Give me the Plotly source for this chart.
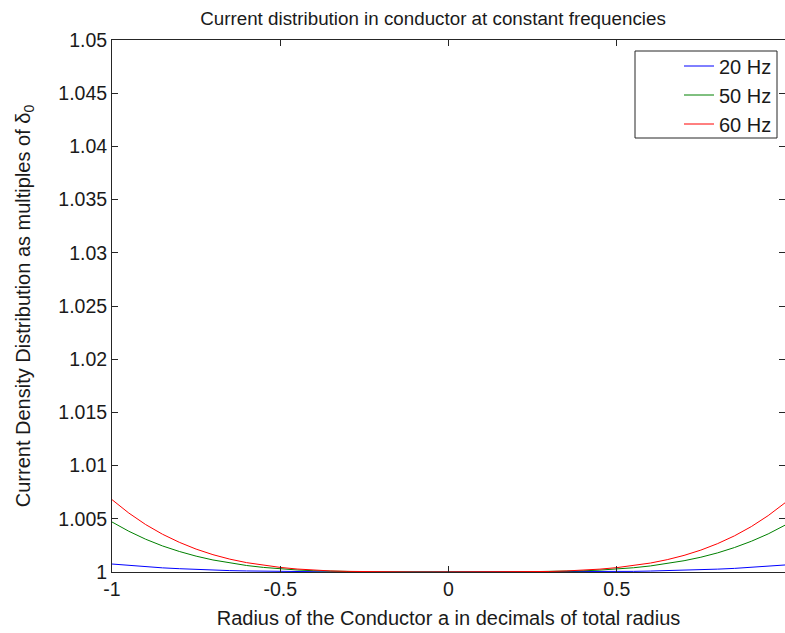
import plotly.graph_objects as go

# Radius positions (decimals of total radius)
radius = [-1.0, -0.95, -0.9, -0.85, -0.8, -0.75, -0.7, -0.65, -0.6, -0.55, -0.5,
          -0.45, -0.4, -0.35, -0.3, -0.25, -0.2, -0.15, -0.1, -0.05, 0.0,
          0.05, 0.1, 0.15, 0.2, 0.25, 0.3, 0.35, 0.4, 0.45, 0.5,
          0.55, 0.6, 0.65, 0.7, 0.75, 0.8, 0.85, 0.9, 0.95, 1.0]

j_20hz = [1.00075, 1.00061, 1.00049, 1.00039, 1.00031, 1.00024, 1.00018, 1.00013, 1.0001, 1.00007, 1.00005,
          1.00003, 1.00002, 1.00001, 1.0, 1.0, 1.0, 1.0, 1.0, 1.0, 1.0,
          1.0, 1.0, 1.0, 1.0, 1.0, 1.0, 1.00001, 1.00002, 1.00003, 1.00004,
          1.00006, 1.00009, 1.00012, 1.00016, 1.00021, 1.00027, 1.00034, 1.00043, 1.00054, 1.00066]

j_50hz = [1.0047, 1.00383, 1.00308, 1.00245, 1.00193, 1.00149, 1.00113, 1.00084, 1.00061, 1.00043, 1.00029,
          1.00019, 1.00012, 1.00007, 1.00004, 1.00002, 1.00001, 1.0, 1.0, 1.0, 1.0,
          1.0, 1.0, 1.0, 1.00001, 1.00002, 1.00004, 1.00007, 1.00011, 1.00018, 1.00028,
          1.0004, 1.00057, 1.00079, 1.00106, 1.00139, 1.0018, 1.0023, 1.00289, 1.00358, 1.0044]

j_60hz = [1.0068, 1.00554, 1.00446, 1.00355, 1.00279, 1.00215, 1.00163, 1.00121, 1.00088, 1.00062, 1.00043,
          1.00028, 1.00017, 1.0001, 1.00006, 1.00003, 1.00001, 1.0, 1.0, 1.0, 1.0,
          1.0, 1.0, 1.0, 1.00001, 1.00003, 1.00005, 1.0001, 1.00016, 1.00027, 1.00041,
          1.00059, 1.00084, 1.00116, 1.00156, 1.00206, 1.00267, 1.0034, 1.00427, 1.0053, 1.0065]

series_names = ["20 Hz", "50 Hz", "60 Hz"]
series_colors = ["#0000FF", "#008000", "#FF0000"]

x_tickvals = [-1, -0.5, 0, 0.5, 1]
x_ticktext = ["-1", "-0.5", "0", "0.5", "1"]
y_tickvals = [1, 1.005, 1.01, 1.015, 1.02, 1.025, 1.03, 1.035, 1.04, 1.045, 1.05]
y_ticktext = ["1", "1.005", "1.01", "1.015", "1.02", "1.025", "1.03", "1.035", "1.04", "1.045", "1.05"]

fig = go.Figure()
for name, color, ys in zip(series_names, series_colors, [j_20hz, j_50hz, j_60hz]):
    fig.add_trace(go.Scatter(x=radius, y=ys, mode="lines", name=name,
                             line=dict(color=color, width=1)))

font_family = "Liberation Sans, Arial, sans-serif"
text_color = "#1a1a1a"
axis_common = dict(showline=True, linecolor="#262626", linewidth=1, mirror="ticks",
                   ticks="inside", ticklen=6, tickcolor="#262626", showgrid=False,
                   zeroline=False, automargin=False,
                   tickfont=dict(family=font_family, size=19.5, color=text_color))

# plot area in pixels: left 112, right 785, top 40, bottom 572
PW, PH = 673, 532

def px_x(p):
    return (p - 112) / PW

def px_y(p):
    return (572 - p) / PH

fig.update_layout(
    width=785, height=633,
    margin=dict(l=112, r=0, t=40, b=61),
    paper_bgcolor="white", plot_bgcolor="white",
    font=dict(family=font_family, color=text_color),
    title=dict(text="Current distribution in conductor at constant frequencies",
               x=433 / 785, xanchor="center", y=1 - 18 / 633, yanchor="middle",
               font=dict(size=18.8, family=font_family, color=text_color)),
    xaxis=dict(range=[-1, 1], tickvals=x_tickvals, ticktext=x_ticktext,
               title=dict(text="Radius of the Conductor a in decimals of total radius",
                          font=dict(size=20, family=font_family), standoff=11),
               **axis_common),
    yaxis=dict(range=[1, 1.05], tickvals=y_tickvals, ticktext=y_ticktext,
               title=dict(text="Current Density Distribution as multiples of δ<sub>0</sub>",
                          font=dict(size=20, family=font_family), standoff=22),
               **axis_common),
    legend=dict(x=px_x(777), xanchor="right", y=px_y(95), yanchor="middle",
                bgcolor="rgba(0,0,0,0)", borderwidth=0,
                font=dict(size=20, family=font_family), tracegroupgap=0),
    shapes=[dict(type="rect", xref="x domain", yref="y domain",
                 x0=px_x(635), x1=px_x(777), y0=px_y(138), y1=px_y(51),
                 line=dict(color="#262626", width=1), fillcolor="white", layer="above")],
    showlegend=True,
)

fig.write_html("out.html", config={"displayModeBar": False},
               post_script="document.body.style.margin='0';document.body.style.overflow='hidden';")
